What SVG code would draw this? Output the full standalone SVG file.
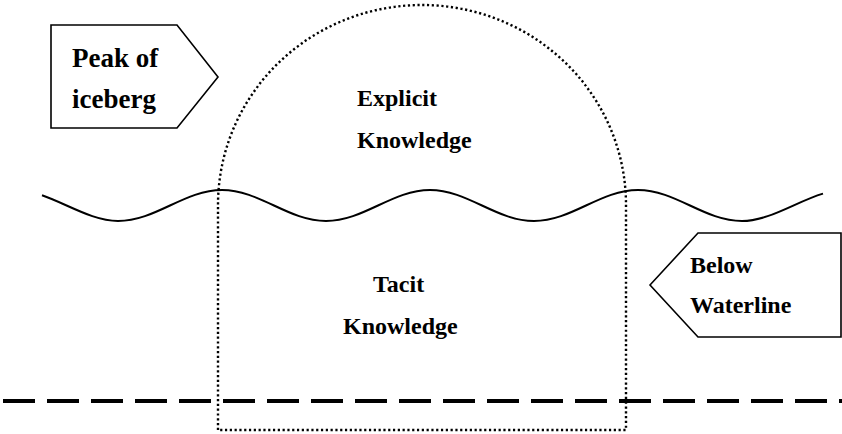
<svg xmlns="http://www.w3.org/2000/svg" width="842" height="434" viewBox="0 0 842 434">
  <style>
    .lbl { font-family: "Liberation Serif", "Times New Roman", serif; font-weight: bold; fill: #000; }
    .box { fill: #fff; stroke: #000; stroke-width: 1.6; stroke-linejoin: miter; }
    .dots { fill: none; stroke: #000; stroke-width: 2.4; stroke-dasharray: 2.2 2.6; }
  </style>
  <rect width="842" height="434" fill="#fff"/>

  <g id="iceberg">
    <path class="dots" d="M218,430 L218,205 A204,200 0 0 1 626,205 L626,430 Z"/>
  </g>

  <g id="waterline">
    <path fill="none" stroke="#000" stroke-width="2" d="M42,195.3 C67.3,204.1 92.7,221 118,221 C155.9,221 184.1,190 222,190 C259.9,190 288.1,221 326,221 C363.9,221 392.1,190 430,190 C467.9,190 496.1,221 534,221 C571.9,221 600.1,190 638,190 C675.9,190 704.1,221 742,221 C769,221 796,201.7 823,193.6"/>
  </g>

  <g id="seabed">
    <line x1="3" y1="401" x2="842" y2="401" stroke="#000" stroke-width="3.8" stroke-dasharray="32 12"/>
  </g>

  <g id="peak">
    <path class="box" d="M51,25 L177,25 L218,77 L177,128 L51,128 Z"/>
    <text class="lbl" font-size="27" x="72" y="67">Peak of</text>
    <text class="lbl" font-size="27" x="72" y="108">iceberg</text>
  </g>

  <g id="below">
    <path class="box" d="M650,285 L698,233 L841,233 L841,337 L698,337 Z"/>
    <text class="lbl" font-size="24" x="690" y="273">Below</text>
    <text class="lbl" font-size="24" x="690" y="313">Waterline</text>
  </g>

  <g id="explicit">
    <text class="lbl" font-size="24" x="357" y="106">Explicit</text>
    <text class="lbl" font-size="24" x="357" y="148">Knowledge</text>
  </g>

  <g id="tacit">
    <text class="lbl" font-size="24" x="373" y="292">Tacit</text>
    <text class="lbl" font-size="24" x="343" y="334">Knowledge</text>
  </g>
</svg>
